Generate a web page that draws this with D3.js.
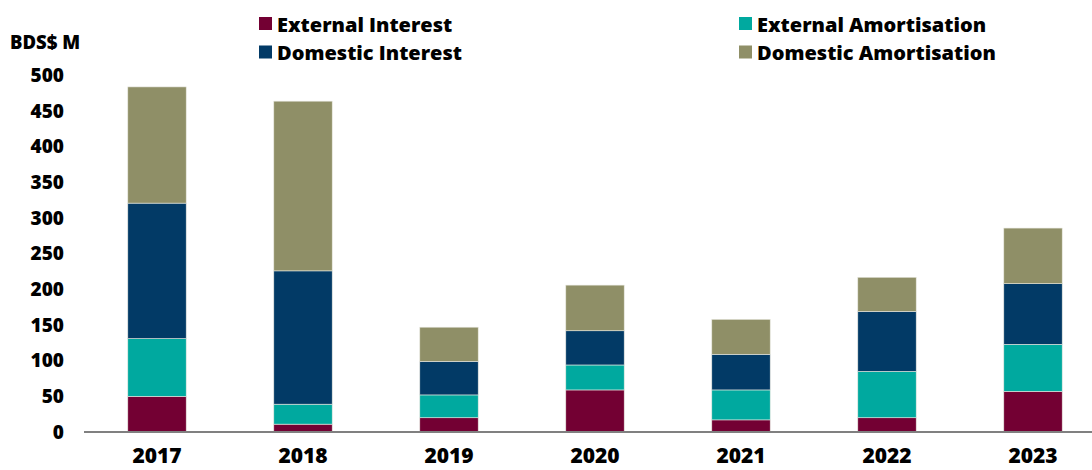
<!DOCTYPE html>
<html><head><meta charset="utf-8">
<script src="https://cdn.jsdelivr.net/npm/d3@7"></script>
<style>body{margin:0;background:#fff}svg{display:block}text{font-family:"Open Sans",sans-serif;font-weight:800;fill:#000}</style>
</head><body><svg id="c" width="1092" height="470"></svg>
<script>
const years = ["2017","2018","2019","2020","2021","2022","2023"];
const externalInterest = [50, 11, 20, 59, 17, 20, 57];
const externalAmortisation = [81, 28, 32, 35, 42, 65, 66];
const domesticInterest = [190, 187, 47, 48, 50, 84, 85];
const domesticAmortisation = [163, 238, 48, 64, 49, 48, 78];
const yTicks = [0,50,100,150,200,250,300,350,400,450,500];
const seriesNames = ["External Interest","External Amortisation","Domestic Interest","Domestic Amortisation"];
const colors = ["#730033","#00A99F","#023A66","#8F8F67"];

const svg = d3.select("#c");
const table = years.map((y,i)=>({year:y, "External Interest":externalInterest[i], "External Amortisation":externalAmortisation[i], "Domestic Interest":domesticInterest[i], "Domestic Amortisation":domesticAmortisation[i]}));
const stack = d3.stack().keys(seriesNames)(table);

const x = d3.scaleBand().domain(years).range([84,1106]).paddingInner(0.6).paddingOuter(0.3);
const y = d3.scaleLinear().domain([0,500]).range([432,75.5]);

svg.selectAll("g.s").data(stack).join("g").attr("class","s")
  .attr("fill",(d,i)=>colors[i])
  .selectAll("rect").data(d=>d).join("rect")
  .attr("x",d=>x(d.data.year)).attr("width",x.bandwidth())
  .attr("y",d=>y(d[1])).attr("height",d=>y(d[0])-y(d[1]))
  .attr("stroke","#e8e8e0").attr("stroke-width",0.6);

// y axis labels
const ya = svg.append("g").attr("transform","translate(64,0)")
  .call(d3.axisLeft(y).tickValues(yTicks).tickSize(0).tickPadding(0));
ya.select(".domain").remove();
ya.selectAll("text").style("font-size","19px").attr("font-family",null).attr("fill","#000");

// x axis
const xa = svg.append("g").attr("transform","translate(0,432)")
  .call(d3.axisBottom(x).tickSize(0).tickPadding(16));
xa.select(".domain").attr("stroke","#808080").attr("stroke-width",2).attr("d","M84,0H1106");
xa.selectAll("text").style("font-size","21px").attr("font-family",null).attr("fill","#000");

svg.append("text").attr("x",10).attr("y",49).style("font-size","18.5px").text("BDS$ M");

// legend
const legPos = [[259,17],[739,17],[259,45.5],[739,45.5]];
const lg = svg.selectAll("g.lg").data(seriesNames).join("g").attr("class","lg")
  .attr("transform",(d,i)=>`translate(${legPos[i][0]},${legPos[i][1]})`);
lg.append("rect").attr("width",13).attr("height",13).attr("fill",(d,i)=>colors[i]);
lg.append("text").attr("x",18).attr("y",14.5).style("font-size","20px").text(d=>d);
</script></body></html>
